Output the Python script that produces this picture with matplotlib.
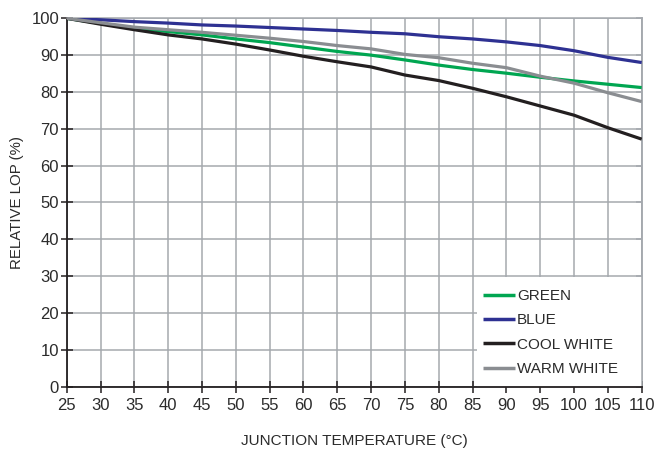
import matplotlib
matplotlib.use("Agg")
import matplotlib.pyplot as plt
from matplotlib.patches import Rectangle

temps = [25, 30, 35, 40, 45, 50, 55, 60, 65, 70, 75, 80, 85, 90, 95, 100, 105, 110]
green = [100, 98.6, 97.3, 96.4, 95.5, 94.4, 93.4, 92.2, 91.0, 90.0, 88.7, 87.3, 86.1, 85.1, 84.0, 83.0, 82.1, 81.2]
blue = [100, 99.6, 99.1, 98.7, 98.2, 97.9, 97.5, 97.1, 96.7, 96.2, 95.8, 95.0, 94.4, 93.6, 92.6, 91.2, 89.4, 88.0]
cool_white = [100, 98.4, 96.9, 95.5, 94.4, 93.0, 91.4, 89.7, 88.2, 86.8, 84.6, 83.1, 81.0, 78.7, 76.2, 73.7, 70.3, 67.2]
warm_white = [100, 98.8, 97.6, 96.9, 96.2, 95.4, 94.6, 93.7, 92.6, 91.7, 90.2, 89.3, 87.8, 86.6, 84.3, 82.4, 79.8, 77.4]
series_names = ["GREEN", "BLUE", "COOL WHITE", "WARM WHITE"]
colors = ["#00a651", "#2e3192", "#231f20", "#8a8d91"]
xticks = list(range(25, 111, 5))
yticks = list(range(0, 101, 10))

plt.rcParams['font.family'] = ['Liberation Sans', 'DejaVu Sans']
txt = "#2b2b2b"
gridc = "#a5a9ae"

fig = plt.figure(figsize=(6.58, 4.51), dpi=100)
ax = fig.add_axes([0.1014, 0.1426, 0.8738, 0.8168])

for vals, name, c in zip([green, blue, cool_white, warm_white], series_names, colors):
    ax.plot(temps, vals, color=c, lw=2.3, label=name, solid_capstyle='butt', zorder=3)

ax.set_xlim(25, 110)
ax.set_ylim(0, 100)
ax.set_xticks(xticks)
ax.set_yticks(yticks)
ax.grid(True, color=gridc, lw=1.1, zorder=0)
ax.set_axisbelow(True)
for s in ['top', 'right']:
    ax.spines[s].set_color(gridc)
    ax.spines[s].set_linewidth(1.1)
for s in ['left', 'bottom']:
    ax.spines[s].set_color("#231f20")
    ax.spines[s].set_linewidth(1.3)
ax.tick_params(axis='both', direction='inout', length=9, width=1.1, color="#231f20",
               labelsize=12, labelcolor=txt)
ax.tick_params(axis='x', pad=4)
ax.tick_params(axis='y', pad=1)
ax.set_xlabel("JUNCTION TEMPERATURE (°C)", fontsize=11, color=txt, labelpad=15)
ax.set_ylabel("RELATIVE LOP (%)", fontsize=10.8, color=txt, labelpad=5)

# right-side inward ticks
sec = ax.secondary_yaxis('right')
sec.set_yticks(yticks)
sec.tick_params(direction='in', length=4, width=1.1, color=gridc, labelright=False)
sec.spines['right'].set_color(gridc)
sec.spines['right'].set_linewidth(1.1)

# legend background box
ax.add_patch(Rectangle((0.7136, 0.0), 1 - 0.7136, 0.2978, transform=ax.transAxes,
                       facecolor='white', edgecolor='none', zorder=2))

leg = ax.legend(loc='upper left', bbox_to_anchor=(0.7245, 0.265), frameon=False,
                borderaxespad=0, borderpad=0, handlelength=2.1, handletextpad=0.11,
                labelspacing=0.68, fontsize=11)
for t in leg.get_texts():
    t.set_color(txt)
for h in leg.get_lines():
    h.set_linewidth(2.5)
leg.set_zorder(5)

fig.savefig("out.png", dpi=100)
